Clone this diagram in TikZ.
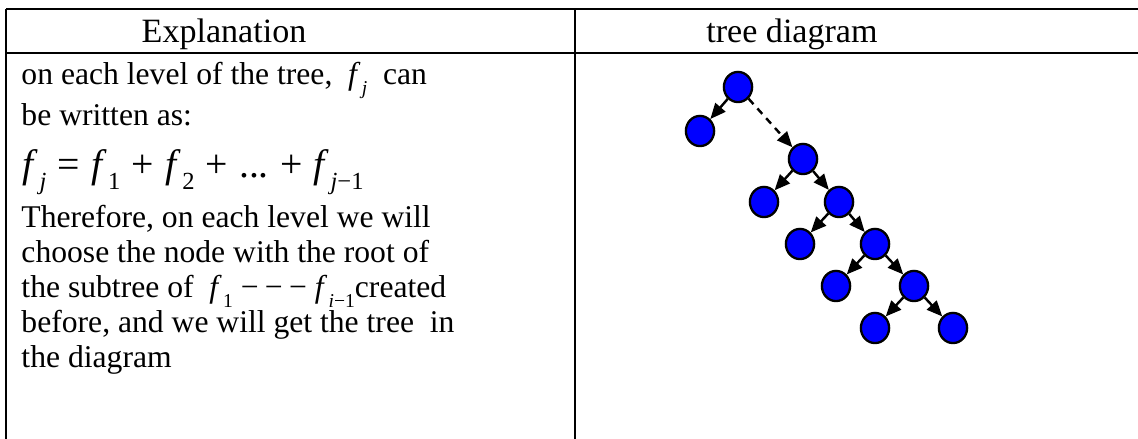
\documentclass[tikz,border=0pt]{standalone}
\usepackage{fontspec}
\setmainfont{Liberation Serif}
\usepackage{tikz}
\usetikzlibrary{arrows.meta, shapes.geometric}

\newcommand{\fsub}[1]{\textit{f}\kern0.04em\raisebox{-0.3em}{\scalebox{0.62}{#1}}}
\newcommand{\op}[1]{\hspace{0.28em}#1\hspace{0.28em}}

\begin{document}
\begin{tikzpicture}[
x=0.411pt, y=-0.411pt,
rule/.style={line width=0.85pt},
head/.style={font=\fontsize{14}{16}\selectfont, anchor=base, inner sep=0pt},
txt/.style={font=\fontsize{13}{15}\selectfont, anchor=base west, inner sep=0pt},
vtx/.style={draw, ellipse, fill=blue, line width=0.95pt, minimum width=11.6pt, minimum height=12.4pt, inner sep=0pt},
arr/.style={-{Triangle[length=6.4pt, width=5.4pt]}, line width=1pt},
every node/.style={font=\small}
]
\useasboundingbox (0,0) rectangle (1138,439);
% table lines
\draw[rule] (6,9) -- (1138,9);
\draw[rule] (6,53) -- (1138,53);
\draw[rule] (6,9) -- (6,439);
\draw[rule] (575,9) -- (575,439);
% headings
\node[head] (hexp) at (224,43) {Explanation};
\node[head] (htree) at (792,43) {tree diagram};
% left cell
\node[txt] (l1) at (21,85) {on each level of the tree,\ \ \fsub{\textit{j}}\ \ can};
\node[txt] (l2) at (21,126) {be written as:};
\node[txt, font=\fontsize{16.3}{18}\selectfont] (l3) at (22,178)
  {\fsub{\textit{j}}\op{=}\fsub{1}\op{+}\fsub{2}\op{+}...\op{+}\fsub{\textit{j}−1}};
\node[txt] (l4) at (21,228) {Therefore, on each level we will};
\node[txt] (l5) at (21,263) {choose the node with the root of};
\node[txt] (l6) at (21,298) {the subtree of\ \ \fsub{1}\hspace{0.25em}−\hspace{0.2em}−\hspace{0.2em}−\hspace{0.25em}\fsub{\textit{i}−1}created};
\node[txt] (l7) at (21,333) {before, and we will get the tree\ \ in};
\node[txt] (l8) at (21,368) {the diagram};
% tree
\node[vtx] (r) at (738,87) {};
\node[vtx] (rl) at (700,131) {};
\node[vtx] (c) at (803,159) {};
\node[vtx] (cl) at (764,202) {};
\node[vtx] (d) at (839,202) {};
\node[vtx] (dl) at (800,244) {};
\node[vtx] (e) at (875,244) {};
\node[vtx] (el) at (836,286) {};
\node[vtx] (f) at (914,286) {};
\node[vtx] (fl) at (875,328) {};
\node[vtx] (g) at (953,328) {};
\draw[arr] (r) -- (rl);
\draw[arr, dash pattern=on 3pt off 2.4pt] (r) -- (c);
\draw[arr] (c) -- (cl);
\draw[arr] (c) -- (d);
\draw[arr] (d) -- (dl);
\draw[arr] (d) -- (e);
\draw[arr] (e) -- (el);
\draw[arr] (e) -- (f);
\draw[arr] (f) -- (fl);
\draw[arr] (f) -- (g);
\end{tikzpicture}
\end{document}
